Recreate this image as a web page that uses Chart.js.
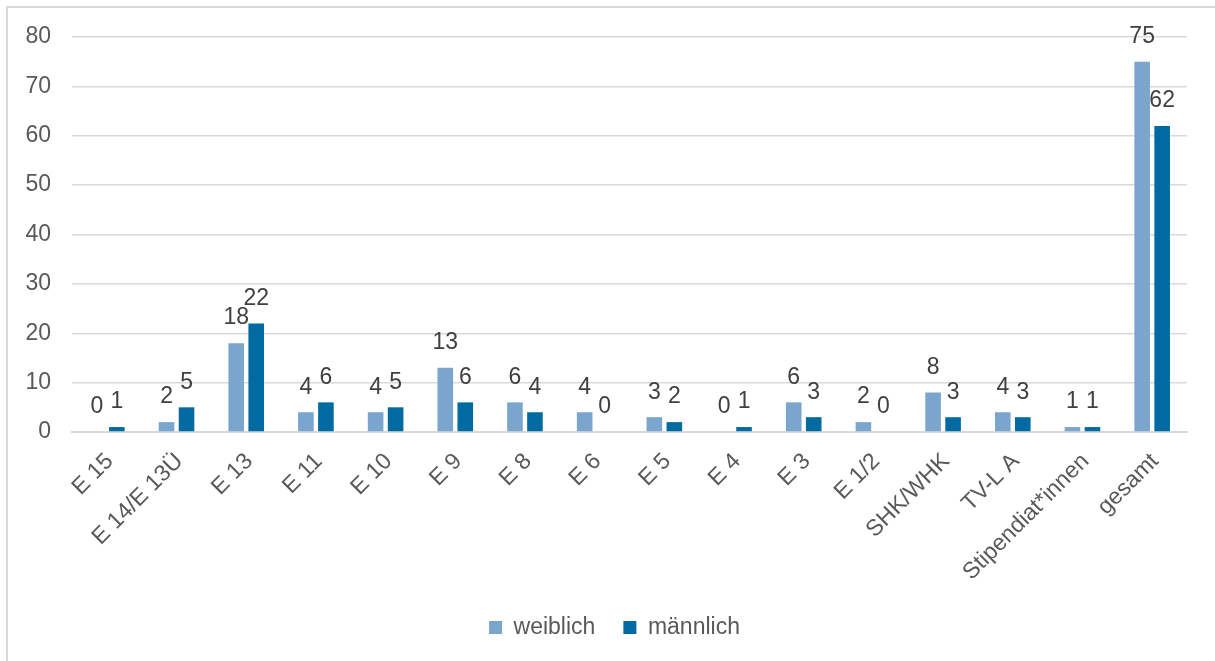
<!DOCTYPE html>
<html lang="de">
<head>
<meta charset="utf-8">
<title>Beschäftigte nach Entgeltgruppe und Geschlecht</title>
<script src="https://cdn.jsdelivr.net/npm/chart.js@4.4.1/dist/chart.umd.min.js"></script>
<style>
  html, body { margin: 0; padding: 0; background: #ffffff; }
  #wrap { position: relative; width: 1215px; height: 661px; overflow: hidden; }
  #frame {
    position: absolute; left: 6px; top: 6px; width: 1300px; height: 700px;
    border-left: 2px solid #d9d9d9; border-top: 2px solid #d9d9d9;
  }
  #chart { position: absolute; left: 0; top: 0; }
</style>
</head>
<body>
<div id="wrap">
  <div id="frame"></div>
  <canvas id="chart" width="1215" height="661"></canvas>
</div>
<script>
// Entgeltgruppen (x-Achse)
const categories = ['E 15', 'E 14/E 13Ü', 'E 13', 'E 11', 'E 10', 'E 9', 'E 8', 'E 6', 'E 5', 'E 4', 'E 3', 'E 1/2', 'SHK/WHK', 'TV-L A', 'Stipendiat*innen', 'gesamt'];
// Anzahl je Gruppe
const weiblich  = [0, 2, 18, 4, 4, 13, 6, 4, 3, 0, 6, 2, 8, 4, 1, 75];
const maennlich = [1, 5, 22, 6, 5, 6, 4, 0, 2, 1, 3, 0, 3, 3, 1, 62];
// Skala der y-Achse
const yTicks = [0, 10, 20, 30, 40, 50, 60, 70, 80];

const FONT = 'Liberation Sans, Arial, sans-serif';
const TEXT_GREY = '#595959';
const LABEL_GREY = '#404040';
const GRID_GREY = '#d9d9d9';

// Zahlenwerte über den Balken
const valueLabels = {
  id: 'valueLabels',
  afterDatasetsDraw(chart) {
    const ctx = chart.ctx;
    ctx.save();
    ctx.font = '23px ' + FONT;
    ctx.fillStyle = LABEL_GREY;
    ctx.textAlign = 'center';
    ctx.textBaseline = 'middle';
    chart.data.datasets.forEach((ds, i) => {
      const meta = chart.getDatasetMeta(i);
      meta.data.forEach((bar, j) => {
        ctx.fillText(String(ds.data[j]), bar.x, bar.y - 25);
      });
    });
    ctx.restore();
  }
};

// Legende etwas nach rechts, mittig unter dem Diagrammbereich
const legendShift = {
  id: 'legendShift',
  afterLayout(chart) {
    if (chart.legend) {
      chart.legend.left += 21;
      chart.legend.right += 21;
    }
  }
};

new Chart(document.getElementById('chart'), {
  type: 'bar',
  data: {
    labels: categories,
    datasets: [
      { label: 'weiblich', data: weiblich, backgroundColor: '#7aa5cd' },
      { label: 'männlich', data: maennlich, backgroundColor: '#006aa1' }
    ]
  },
  options: {
    responsive: false,
    animation: false,
    datasets: {
      bar: { categoryPercentage: 0.574, barPercentage: 0.78 }
    },
    layout: { padding: { top: 37, right: 28, bottom: 12, left: 0 } },
    plugins: {
      legend: {
        position: 'bottom',
        labels: {
          font: { family: FONT, size: 23 },
          color: TEXT_GREY,
          boxWidth: 13,
          boxHeight: 13,
          padding: 28
        }
      },
      tooltip: { enabled: false }
    },
    scales: {
      x: {
        afterFit(scale) { scale.height = 156; },
        grid: { display: false, drawTicks: false },
        border: { display: true, color: GRID_GREY, width: 2 },
        ticks: {
          font: { family: FONT, size: 23 },
          color: TEXT_GREY,
          minRotation: 45,
          maxRotation: 45,
          autoSkip: false,
          padding: 16,
          labelOffset: 3
        }
      },
      y: {
        min: 0,
        max: 80,
        afterFit(scale) { scale.width = 72; },
        afterBuildTicks(scale) { scale.ticks = yTicks.map(v => ({ value: v })); },
        grid: { color: GRID_GREY, lineWidth: 1.5, drawTicks: false },
        border: { display: false },
        ticks: {
          font: { family: FONT, size: 23 },
          color: TEXT_GREY,
          padding: 21
        }
      }
    }
  },
  plugins: [valueLabels, legendShift]
});
</script>
</body>
</html>
